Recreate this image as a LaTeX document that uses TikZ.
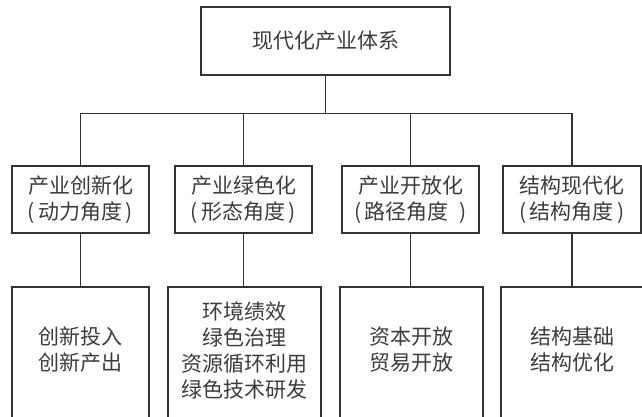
\documentclass[tikz,border=0pt]{standalone}
\usepackage{fontspec}
\newfontfamily\cjk{Noto Sans CJK SC}
\definecolor{linegray}{HTML}{333333}
\definecolor{textgray}{HTML}{3C3C3C}
\tikzset{
  cjktext/.style={font=\cjk\fontsize{21}{26}\selectfont},
  box/.style={draw=linegray, line width=1.5pt, text=textgray, align=center, minimum height=67pt, inner sep=0pt},
  plain/.style={text=textgray, align=center, inner sep=0pt, minimum height=126pt},
  wire/.style={draw=linegray, line width=1.5pt}
}

\begin{document}
\begin{tikzpicture}[x=1pt, y=-1pt, every node/.style={cjktext}]
    \useasboundingbox (0,0) rectangle (642,417);
    \clip (0,0) rectangle (642,417);

    % Top level
    \node[box, minimum width=249pt, minimum height=68pt] (top) at (325.5,41) {现代化产业体系};

    % Second level
    \node[box, minimum width=137pt] (innov) at (80.5,199.5) {产业创新化\\(\,动力角度\,)};
    \node[box, minimum width=137pt] (green) at (243.5,199.5) {产业绿色化\\(\,形态角度\,)};
    \node[box, minimum width=137pt] (opening) at (410.5,199.5) {产业开放化\\(\,路径角度\enspace)};
    \node[box, minimum width=138pt] (struct) at (572,199.5) {结构现代化\\(\,结构角度\,)};

    % Bus between the levels
    \draw[wire] (top.south) -- ++(0,38) coordinate (bus);
    \draw[wire] (innov.north) |- (bus) -| (struct.north);
    \draw[wire] (green.north) -- (green.north |- bus);
    \draw[wire] (opening.north) -- (opening.north |- bus);

    % Third level (boxes run off the bottom edge)
    \node[plain, minimum width=137pt] (innovitems) at (80.5,350) {创新投入\\创新产出};
    \node[plain, minimum width=153pt] (greenitems) at (244.5,350) {环境绩效\\绿色治理\\资源循环利用\\绿色技术研发};
    \node[plain, minimum width=143pt] (openingitems) at (411.5,350) {资本开放\\贸易开放};
    \node[plain, minimum width=143pt] (structitems) at (572.5,350) {结构基础\\结构优化};

    \foreach \n in {innovitems, greenitems, openingitems, structitems}
        \draw[wire] ([yshift=-30pt]\n.south west) |- (\n.north east) -- ([yshift=-30pt]\n.south east);

    \foreach \a/\b in {innov/innovitems, green/greenitems, opening/openingitems, struct/structitems}
        \draw[wire] (\a.south) -- (\a.south |- \b.north);
\end{tikzpicture}
\end{document}
